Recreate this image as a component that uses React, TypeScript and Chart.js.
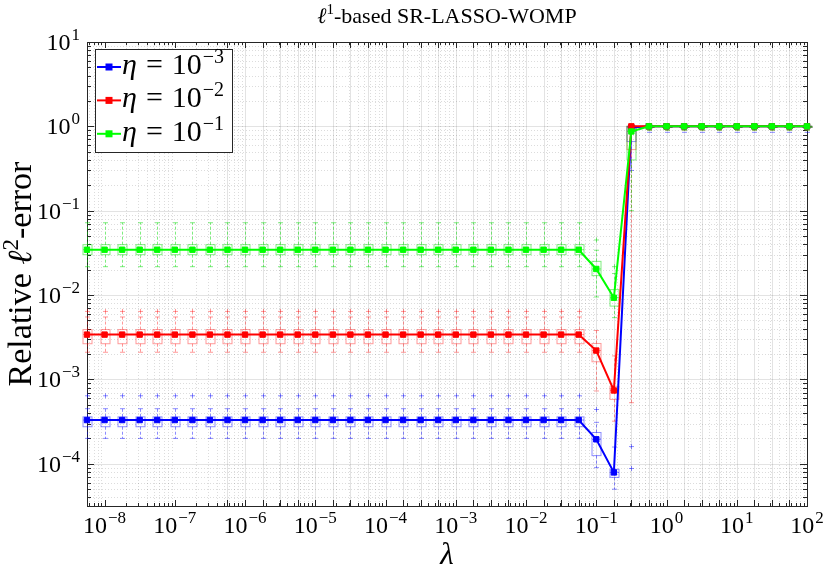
import React, { useEffect, useRef } from "react";
import { Chart, registerables, Plugin } from "chart.js";

Chart.register(...registerables);

// lambda grid (x positions of the boxes)
const lambdas = [
  5.62e-9, 1e-8, 1.78e-8, 3.16e-8, 5.62e-8, 1e-7, 1.78e-7, 3.16e-7, 5.62e-7, 1e-6,
  1.78e-6, 3.16e-6, 5.62e-6, 1e-5, 1.78e-5, 3.16e-5, 5.62e-5, 1e-4, 1.78e-4, 3.16e-4,
  5.62e-4, 1e-3, 1.78e-3, 3.16e-3, 5.62e-3, 0.01, 0.0178, 0.0316, 0.0562, 0.1,
  0.178, 0.316, 0.562, 1, 1.78, 3.16, 5.62, 10, 17.8, 31.6, 56.2, 100,
];

const xTicks = [1e-8, 1e-7, 1e-6, 1e-5, 1e-4, 1e-3, 1e-2, 1e-1, 1, 10, 100];
const yTicks = [1e-4, 1e-3, 1e-2, 1e-1, 1, 10];
const etaExponents = [-3, -2, -1];

// eta = 1e-3
const blueMedian = [
  3.3e-4, 3.3e-4, 3.3e-4, 3.3e-4, 3.3e-4, 3.3e-4, 3.3e-4, 3.3e-4, 3.3e-4, 3.3e-4,
  3.3e-4, 3.3e-4, 3.3e-4, 3.3e-4, 3.3e-4, 3.3e-4, 3.3e-4, 3.3e-4, 3.3e-4, 3.3e-4,
  3.3e-4, 3.3e-4, 3.3e-4, 3.3e-4, 3.3e-4, 3.3e-4, 3.3e-4, 3.3e-4, 3.3e-4,
  1.95e-4, 7.9e-5, 0.97, 1, 1, 1, 1, 1, 1, 1, 1, 1, 1,
];
const blueQ1 = [
  2.75e-4, 2.75e-4, 2.75e-4, 2.75e-4, 2.75e-4, 2.75e-4, 2.75e-4, 2.75e-4, 2.75e-4, 2.75e-4,
  2.75e-4, 2.75e-4, 2.75e-4, 2.75e-4, 2.75e-4, 2.75e-4, 2.75e-4, 2.75e-4, 2.75e-4, 2.75e-4,
  2.75e-4, 2.75e-4, 2.75e-4, 2.75e-4, 2.75e-4, 2.75e-4, 2.75e-4, 2.75e-4, 2.75e-4,
  1.25e-4, 6.9e-5, 0.66, 0.97, 0.97, 0.97, 0.97, 0.97, 0.97, 0.97, 0.97, 0.97, 0.97,
];
const blueQ3 = [
  3.6e-4, 3.6e-4, 3.6e-4, 3.6e-4, 3.6e-4, 3.6e-4, 3.6e-4, 3.6e-4, 3.6e-4, 3.6e-4,
  3.6e-4, 3.6e-4, 3.6e-4, 3.6e-4, 3.6e-4, 3.6e-4, 3.6e-4, 3.6e-4, 3.6e-4, 3.6e-4,
  3.6e-4, 3.6e-4, 3.6e-4, 3.6e-4, 3.6e-4, 3.6e-4, 3.6e-4, 3.6e-4, 3.6e-4,
  2.35e-4, 8.6e-5, 1, 1, 1, 1, 1, 1, 1, 1, 1, 1, 1,
];
const blueLow = [
  2e-4, 2e-4, 2e-4, 2e-4, 2e-4, 2e-4, 2e-4, 2e-4, 2e-4, 2e-4,
  2e-4, 2e-4, 2e-4, 2e-4, 2e-4, 2e-4, 2e-4, 2e-4, 2e-4, 2e-4,
  2e-4, 2e-4, 2e-4, 2e-4, 2e-4, 2e-4, 2e-4, 2e-4, 2e-4,
  9e-5, 5e-5, 0.3, 0.85, 0.85, 0.85, 0.85, 0.85, 0.85, 0.85, 0.85, 0.85, 0.85,
];
const blueHigh = [
  4.5e-4, 4.5e-4, 4.5e-4, 4.5e-4, 4.5e-4, 4.5e-4, 4.5e-4, 4.5e-4, 4.5e-4, 4.5e-4,
  4.5e-4, 4.5e-4, 4.5e-4, 4.5e-4, 4.5e-4, 4.5e-4, 4.5e-4, 4.5e-4, 4.5e-4, 4.5e-4,
  4.5e-4, 4.5e-4, 4.5e-4, 4.5e-4, 4.5e-4, 4.5e-4, 4.5e-4, 4.5e-4, 4.5e-4,
  3.1e-4, 1.58e-4, 1, 1, 1, 1, 1, 1, 1, 1, 1, 1, 1,
];
const blueOutliers = [
  [6.4e-4], [6.4e-4], [6.4e-4], [6.4e-4], [6.4e-4], [6.4e-4], [6.4e-4], [6.4e-4], [6.4e-4], [6.4e-4],
  [6.4e-4], [6.4e-4], [6.4e-4], [6.4e-4], [6.4e-4], [6.4e-4], [6.4e-4], [6.4e-4], [6.4e-4], [6.4e-4],
  [6.4e-4], [6.4e-4], [6.4e-4], [6.4e-4], [6.4e-4], [6.4e-4], [6.4e-4], [6.4e-4], [6.4e-4],
  [4.4e-4], [], [1.6e-4, 8.8e-5], [], [], [], [], [], [], [], [], [], [],
];

// eta = 1e-2
const redMedian = [
  3.4e-3, 3.4e-3, 3.4e-3, 3.4e-3, 3.4e-3, 3.4e-3, 3.4e-3, 3.4e-3, 3.4e-3, 3.4e-3,
  3.4e-3, 3.4e-3, 3.4e-3, 3.4e-3, 3.4e-3, 3.4e-3, 3.4e-3, 3.4e-3, 3.4e-3, 3.4e-3,
  3.4e-3, 3.4e-3, 3.4e-3, 3.4e-3, 3.4e-3, 3.4e-3, 3.4e-3, 3.4e-3, 3.4e-3,
  2.2e-3, 7.4e-4, 1, 1, 1, 1, 1, 1, 1, 1, 1, 1, 1,
];
const redQ1 = [
  2.65e-3, 2.65e-3, 2.65e-3, 2.65e-3, 2.65e-3, 2.65e-3, 2.65e-3, 2.65e-3, 2.65e-3, 2.65e-3,
  2.65e-3, 2.65e-3, 2.65e-3, 2.65e-3, 2.65e-3, 2.65e-3, 2.65e-3, 2.65e-3, 2.65e-3, 2.65e-3,
  2.65e-3, 2.65e-3, 2.65e-3, 2.65e-3, 2.65e-3, 2.65e-3, 2.65e-3, 2.65e-3, 2.65e-3,
  1.62e-3, 5.8e-4, 0.53, 0.97, 0.97, 0.97, 0.97, 0.97, 0.97, 0.97, 0.97, 0.97, 0.97,
];
const redQ3 = [
  3.9e-3, 3.9e-3, 3.9e-3, 3.9e-3, 3.9e-3, 3.9e-3, 3.9e-3, 3.9e-3, 3.9e-3, 3.9e-3,
  3.9e-3, 3.9e-3, 3.9e-3, 3.9e-3, 3.9e-3, 3.9e-3, 3.9e-3, 3.9e-3, 3.9e-3, 3.9e-3,
  3.9e-3, 3.9e-3, 3.9e-3, 3.9e-3, 3.9e-3, 3.9e-3, 3.9e-3, 3.9e-3, 3.9e-3,
  2.67e-3, 8.3e-4, 1, 1, 1, 1, 1, 1, 1, 1, 1, 1, 1,
];
const redLow = [
  2.1e-3, 2.1e-3, 2.1e-3, 2.1e-3, 2.1e-3, 2.1e-3, 2.1e-3, 2.1e-3, 2.1e-3, 2.1e-3,
  2.1e-3, 2.1e-3, 2.1e-3, 2.1e-3, 2.1e-3, 2.1e-3, 2.1e-3, 2.1e-3, 2.1e-3, 2.1e-3,
  2.1e-3, 2.1e-3, 2.1e-3, 2.1e-3, 2.1e-3, 2.1e-3, 2.1e-3, 2.1e-3, 2.1e-3,
  7.3e-4, 3.2e-4, 5.3e-4, 0.9, 0.9, 0.9, 0.9, 0.9, 0.9, 0.9, 0.9, 0.9, 0.9,
];
const redHigh = [
  5.5e-3, 5.5e-3, 5.5e-3, 5.5e-3, 5.5e-3, 5.5e-3, 5.5e-3, 5.5e-3, 5.5e-3, 5.5e-3,
  5.5e-3, 5.5e-3, 5.5e-3, 5.5e-3, 5.5e-3, 5.5e-3, 5.5e-3, 5.5e-3, 5.5e-3, 5.5e-3,
  5.5e-3, 5.5e-3, 5.5e-3, 5.5e-3, 5.5e-3, 5.5e-3, 5.5e-3, 5.5e-3, 5.5e-3,
  3.8e-3, 1.9e-3, 1, 1, 1, 1, 1, 1, 1, 1, 1, 1, 1,
];
const redOutliers = [
  [6.4e-3], [6.4e-3], [6.4e-3], [6.4e-3], [6.4e-3], [6.4e-3], [6.4e-3], [6.4e-3], [6.4e-3], [6.4e-3],
  [6.4e-3], [6.4e-3], [6.4e-3], [6.4e-3], [6.4e-3], [6.4e-3], [6.4e-3], [6.4e-3], [6.4e-3], [6.4e-3],
  [6.4e-3], [6.4e-3], [6.4e-3], [6.4e-3], [6.4e-3], [6.4e-3], [6.4e-3], [6.4e-3], [6.4e-3],
  [], [], [], [], [], [], [], [], [], [], [], [], [],
];

// eta = 1e-1
const greenMedian = [
  0.0345, 0.0345, 0.0345, 0.0345, 0.0345, 0.0345, 0.0345, 0.0345, 0.0345, 0.0345,
  0.0345, 0.0345, 0.0345, 0.0345, 0.0345, 0.0345, 0.0345, 0.0345, 0.0345, 0.0345,
  0.0345, 0.0345, 0.0345, 0.0345, 0.0345, 0.0345, 0.0345, 0.0345, 0.0345,
  0.0204, 0.0093, 0.87, 1, 1, 1, 1, 1, 1, 1, 1, 1, 1,
];
const greenQ1 = [
  0.0301, 0.0301, 0.0301, 0.0301, 0.0301, 0.0301, 0.0301, 0.0301, 0.0301, 0.0301,
  0.0301, 0.0301, 0.0301, 0.0301, 0.0301, 0.0301, 0.0301, 0.0301, 0.0301, 0.0301,
  0.0301, 0.0301, 0.0301, 0.0301, 0.0301, 0.0301, 0.0301, 0.0301, 0.0301,
  0.017, 0.0074, 0.4, 0.97, 0.97, 0.97, 0.97, 0.97, 0.97, 0.97, 0.97, 0.97, 0.97,
];
const greenQ3 = [
  0.0396, 0.0396, 0.0396, 0.0396, 0.0396, 0.0396, 0.0396, 0.0396, 0.0396, 0.0396,
  0.0396, 0.0396, 0.0396, 0.0396, 0.0396, 0.0396, 0.0396, 0.0396, 0.0396, 0.0396,
  0.0396, 0.0396, 0.0396, 0.0396, 0.0396, 0.0396, 0.0396, 0.0396, 0.0396,
  0.0251, 0.0116, 1, 1, 1, 1, 1, 1, 1, 1, 1, 1, 1,
];
const greenLow = [
  0.0217, 0.0217, 0.0217, 0.0217, 0.0217, 0.0217, 0.0217, 0.0217, 0.0217, 0.0217,
  0.0217, 0.0217, 0.0217, 0.0217, 0.0217, 0.0217, 0.0217, 0.0217, 0.0217, 0.0217,
  0.0217, 0.0217, 0.0217, 0.0217, 0.0217, 0.0217, 0.0217, 0.0217, 0.0217,
  0.0095, 0.0054, 0.1, 0.9, 0.9, 0.9, 0.9, 0.9, 0.9, 0.9, 0.9, 0.9, 0.9,
];
const greenHigh = [
  0.072, 0.072, 0.072, 0.072, 0.072, 0.072, 0.072, 0.072, 0.072, 0.072,
  0.072, 0.072, 0.072, 0.072, 0.072, 0.072, 0.072, 0.072, 0.072, 0.072,
  0.072, 0.072, 0.072, 0.072, 0.072, 0.072, 0.072, 0.072, 0.072,
  0.034, 0.018, 1, 1, 1, 1, 1, 1, 1, 1, 1, 1, 1,
];
const greenOutliers = [
  [], [], [], [], [], [], [], [], [], [], [], [], [], [], [], [], [], [], [], [],
  [], [], [], [], [], [], [], [], [],
  [0.045], [0.0217], [], [], [], [], [], [], [], [], [], [], [],
];

const series = [
  { color: "#0000ff", light: "rgba(0,0,255,0.45)", order: 2, median: blueMedian, q1: blueQ1, q3: blueQ3, low: blueLow, high: blueHigh, out: blueOutliers },
  { color: "#ff0000", light: "rgba(255,0,0,0.4)", order: 1, median: redMedian, q1: redQ1, q3: redQ3, low: redLow, high: redHigh, out: redOutliers },
  { color: "#00ff00", light: "rgba(0,220,0,0.5)", order: 0, median: greenMedian, q1: greenQ1, q3: greenQ3, low: greenLow, high: greenHigh, out: greenOutliers },
];

// solid vertical grid lines only show from this lambda on
const solidGridFrom = 5.62e-7;

const serif = '"Liberation Serif", "DejaVu Serif", serif';
const axisColor = "#262626";

type Part = { t: string; size: number; italic?: boolean; dy?: number; gap?: number };

function fontOf(p: Part) {
  return `${p.italic ? "italic " : ""}${p.size}px ${serif}`;
}

function drawMath(ctx: CanvasRenderingContext2D, parts: Part[], x: number, y: number, align: "left" | "center" | "right") {
  let w = 0;
  for (const p of parts) {
    ctx.font = fontOf(p);
    w += (p.gap ?? 0) + ctx.measureText(p.t).width;
  }
  let cx = align === "left" ? x : align === "center" ? x - w / 2 : x - w;
  ctx.textAlign = "left";
  ctx.textBaseline = "alphabetic";
  for (const p of parts) {
    ctx.font = fontOf(p);
    cx += p.gap ?? 0;
    ctx.fillText(p.t, cx, y - (p.dy ?? 0));
    cx += ctx.measureText(p.t).width;
  }
}

function powerOfTen(v: number, size: number, supSize: number, raise: number): Part[] {
  const e = Math.round(Math.log10(v));
  return [
    { t: "10", size },
    { t: e < 0 ? "\u2212" + -e : String(e), size: supSize, dy: raise, gap: 1 },
  ];
}

function minorValues(min: number, max: number) {
  const out: number[] = [];
  for (let e = -10; e <= 3; e++) {
    for (let d = 2; d <= 9; d++) {
      const v = d * Math.pow(10, e);
      if (v > min && v < max) out.push(v);
    }
  }
  return out;
}

const matlabLook: Plugin = {
  id: "matlabLook",
  beforeDatasetsDraw(chart) {
    const { ctx, chartArea: a } = chart;
    const xs = chart.scales.x;
    const ys = chart.scales.y;
    const snap = (p: number) => Math.round(p) + 0.5;
    const vline = (px: number) => {
      ctx.beginPath();
      ctx.moveTo(snap(px), a.top);
      ctx.lineTo(snap(px), a.bottom);
      ctx.stroke();
    };
    const hline = (py: number) => {
      ctx.beginPath();
      ctx.moveTo(a.left, snap(py));
      ctx.lineTo(a.right, snap(py));
      ctx.stroke();
    };
    ctx.save();
    ctx.fillStyle = "#fff";
    ctx.fillRect(a.left, a.top, a.right - a.left, a.bottom - a.top);
    ctx.lineWidth = 1;

    // minor grid, dotted
    ctx.strokeStyle = "rgba(38,38,38,0.16)";
    ctx.setLineDash([1, 2]);
    minorValues(xs.min, xs.max).forEach((v) => vline(xs.getPixelForValue(v)));
    minorValues(ys.min, ys.max).forEach((v) => hline(ys.getPixelForValue(v)));

    // major grid, solid
    ctx.setLineDash([]);
    ctx.strokeStyle = "rgba(38,38,38,0.13)";
    lambdas.filter((l) => l >= solidGridFrom).forEach((v) => vline(xs.getPixelForValue(v)));
    yTicks.forEach((v) => hline(ys.getPixelForValue(v)));

    // frame and inward ticks
    ctx.strokeStyle = axisColor;
    ctx.strokeRect(snap(a.left), snap(a.top), Math.round(a.right - a.left), Math.round(a.bottom - a.top));
    const xTick = (v: number, len: number) => {
      const px = snap(xs.getPixelForValue(v));
      ctx.beginPath();
      ctx.moveTo(px, a.bottom);
      ctx.lineTo(px, a.bottom - len);
      ctx.moveTo(px, a.top);
      ctx.lineTo(px, a.top + len);
      ctx.stroke();
    };
    const yTick = (v: number, len: number) => {
      const py = snap(ys.getPixelForValue(v));
      ctx.beginPath();
      ctx.moveTo(a.left, py);
      ctx.lineTo(a.left + len, py);
      ctx.moveTo(a.right, py);
      ctx.lineTo(a.right - len, py);
      ctx.stroke();
    };
    minorValues(xs.min, xs.max).forEach((v) => xTick(v, 3));
    lambdas.filter((l) => l >= solidGridFrom).forEach((v) => xTick(v, 6));
    xTicks.forEach((v) => xTick(v, 6));
    minorValues(ys.min, ys.max).forEach((v) => yTick(v, 4));
    yTicks.forEach((v) => yTick(v, 7));

    // box plots
    series.forEach((s) => {
      ctx.strokeStyle = s.light;
      lambdas.forEach((l, i) => {
        const px = Math.round(xs.getPixelForValue(l)) + 0.5;
        const yq1 = ys.getPixelForValue(s.q1[i]);
        const yq3 = ys.getPixelForValue(s.q3[i]);
        const ylo = ys.getPixelForValue(s.low[i]);
        const yhi = ys.getPixelForValue(s.high[i]);
        const ymed = ys.getPixelForValue(s.median[i]);
        ctx.setLineDash([]);
        ctx.strokeRect(px - 4.5, yq3, 9, yq1 - yq3);
        ctx.beginPath();
        ctx.moveTo(px - 4.5, ymed);
        ctx.lineTo(px + 4.5, ymed);
        ctx.moveTo(px - 2.5, yhi);
        ctx.lineTo(px + 2.5, yhi);
        ctx.moveTo(px - 2.5, ylo);
        ctx.lineTo(px + 2.5, ylo);
        ctx.stroke();
        ctx.setLineDash([3, 2]);
        ctx.beginPath();
        ctx.moveTo(px, yq3);
        ctx.lineTo(px, yhi);
        ctx.moveTo(px, yq1);
        ctx.lineTo(px, ylo);
        ctx.stroke();
        ctx.setLineDash([]);
        s.out[i].forEach((o) => {
          const py = ys.getPixelForValue(o);
          ctx.beginPath();
          ctx.moveTo(px - 2.5, py);
          ctx.lineTo(px + 2.5, py);
          ctx.moveTo(px, py - 2.5);
          ctx.lineTo(px, py + 2.5);
          ctx.stroke();
        });
      });
    });
    ctx.restore();
  },
  afterDatasetsDraw(chart) {
    const { ctx, chartArea: a } = chart;
    const xs = chart.scales.x;
    const ys = chart.scales.y;
    const midX = (a.left + a.right) / 2;
    const midY = (a.top + a.bottom) / 2;
    ctx.save();
    ctx.fillStyle = "#000";

    xTicks.forEach((v) => drawMath(ctx, powerOfTen(v, 24, 17, 10), xs.getPixelForValue(v), a.bottom + 27, "center"));
    yTicks.forEach((v) => drawMath(ctx, powerOfTen(v, 24, 17, 10), a.left - 7, ys.getPixelForValue(v) + 8, "right"));

    drawMath(ctx, [{ t: "\u03bb", size: 31, italic: true }], midX, a.bottom + 58, "center");
    drawMath(
      ctx,
      [
        { t: "\u2113", size: 22, italic: true },
        { t: "1", size: 15, dy: 9 },
        { t: "-based SR-LASSO-WOMP", size: 22 },
      ],
      midX,
      a.top - 19,
      "center"
    );
    ctx.translate(a.left - 56, midY);
    ctx.rotate(-Math.PI / 2);
    drawMath(
      ctx,
      [
        { t: "Relative ", size: 34 },
        { t: "\u2113", size: 34, italic: true },
        { t: "2", size: 23, dy: 13 },
        { t: "-error", size: 34 },
      ],
      0,
      0,
      "center"
    );
    ctx.restore();

    // legend
    const lx = a.left + 8;
    const ly = a.top + 7;
    ctx.save();
    ctx.fillStyle = "#fff";
    ctx.fillRect(lx, ly, 137, 103);
    ctx.strokeStyle = axisColor;
    ctx.lineWidth = 1;
    ctx.strokeRect(lx + 0.5, ly + 0.5, 137, 103);
    series.forEach((s, i) => {
      const y = ly + 18 + i * 33.4;
      ctx.strokeStyle = s.color;
      ctx.lineWidth = 2;
      ctx.beginPath();
      ctx.moveTo(lx + 2, y);
      ctx.lineTo(lx + 26, y);
      ctx.stroke();
      ctx.fillStyle = s.color;
      ctx.fillRect(lx + 10.5, y - 3.5, 7, 7);
      ctx.fillStyle = "#000";
      drawMath(
        ctx,
        [
          { t: "\u03b7", size: 30, italic: true },
          { t: "=", size: 30, gap: 9 },
          { t: "10", size: 30, gap: 9 },
          { t: "\u2212" + -etaExponents[i], size: 20, dy: 11, gap: 1 },
        ],
        lx + 27,
        y + 7,
        "left"
      );
    });
    ctx.restore();
  },
};

export default function App() {
  const canvasRef = useRef<HTMLCanvasElement | null>(null);

  useEffect(() => {
    if (!canvasRef.current) {
      return;
    }
    document.body.style.margin = "0";
    const chart = new Chart(canvasRef.current, {
      type: "scatter",
      data: {
        datasets: series.map((s) => ({
          data: lambdas.map((x, i) => ({ x, y: s.median[i] })),
          showLine: true,
          borderColor: s.color,
          backgroundColor: s.color,
          borderWidth: 2,
          pointStyle: "rect",
          pointRadius: 3.8,
          pointBorderWidth: 1,
          order: s.order,
          clip: false,
        })),
      },
      options: {
        animation: false,
        responsive: false,
        devicePixelRatio: 1,
        events: [],
        layout: { padding: { left: 87, right: 23, top: 42, bottom: 70 } },
        scales: {
          x: { type: "logarithmic", min: lambdas[0], max: lambdas[lambdas.length - 1], display: false },
          y: { type: "logarithmic", min: 3.16e-5, max: 10, display: false },
        },
        plugins: {
          legend: { display: false },
          tooltip: { enabled: false },
          title: { display: false },
        },
      },
      plugins: [matlabLook],
    });
    return () => {
      chart.destroy();
    };
  }, [canvasRef]);

  return (
    <div style={{ width: 830, height: 576, background: "#fff" }}>
      <canvas ref={canvasRef} width={830} height={576}></canvas>
    </div>
  );
}
